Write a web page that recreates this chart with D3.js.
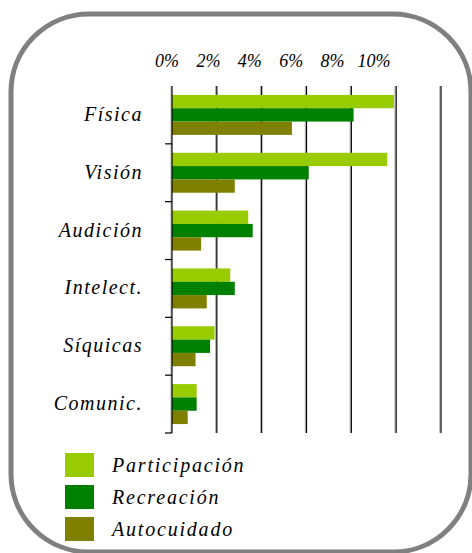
<!DOCTYPE html>
<html>
<head>
<meta charset="utf-8">
<script src="https://cdn.jsdelivr.net/npm/d3@7"></script>
<style>
  body { margin: 0; background: #fff; }
  svg { display: block; }
  text { font-family: "Liberation Serif", "DejaVu Serif", serif; font-style: italic; fill: #000; }
</style>
</head>
<body>
<script>
// data (percent)
var categories = ["Física", "Visión", "Audición", "Intelect.", "Síquicas", "Comunic."];
var series = ["Participación", "Recreación", "Autocuidado"];
var participacion = [9.9, 9.6, 3.4, 2.6, 1.9, 1.1];
var recreacion = [8.1, 6.1, 3.6, 2.8, 1.7, 1.1];
var autocuidado = [5.35, 2.8, 1.3, 1.55, 1.05, 0.7];
var tickLabels = ["0%", "2%", "4%", "6%", "8%", "10%"];
var gridValues = [0, 2, 4, 6, 8, 10, 12];
var colors = ["#99cc00", "#008000", "#808000"];

var values = [participacion, recreacion, autocuidado];

var width = 472, height = 553;

var svg = d3.select("body").append("svg")
    .attr("width", width)
    .attr("height", height);

// rounded frame
svg.append("rect")
    .attr("x", 11).attr("y", 14)
    .attr("width", 460).attr("height", 538)
    .attr("rx", 78).attr("ry", 78)
    .attr("fill", "none")
    .attr("stroke", "#808080")
    .attr("stroke-width", 5);

var x = d3.scaleLinear().domain([0, 12]).range([172, 441]);
var y = d3.scaleBand().domain(categories).range([86, 433]);
var y1 = d3.scaleBand().domain(series).range([0, y.bandwidth()]).paddingOuter(0.67);

// gridlines
var grid = svg.append("g");
grid.selectAll("line.shadow")
    .data(gridValues.slice(1))
    .enter().append("line")
    .attr("class", "shadow")
    .attr("x1", function (d) { return x(d) - 1.2; })
    .attr("x2", function (d) { return x(d) - 1.2; })
    .attr("y1", y.range()[0]).attr("y2", y.range()[1])
    .attr("stroke", "#aaa").attr("stroke-width", 1);
grid.selectAll("line.main")
    .data(gridValues.slice(1))
    .enter().append("line")
    .attr("class", "main")
    .attr("x1", function (d) { return x(d); })
    .attr("x2", function (d) { return x(d); })
    .attr("y1", y.range()[0]).attr("y2", y.range()[1])
    .attr("stroke", "#000").attr("stroke-width", 1.2);

// bars
var groups = svg.selectAll("g.cat")
    .data(categories)
    .enter().append("g")
    .attr("class", "cat")
    .attr("transform", function (d) { return "translate(0," + y(d) + ")"; });

groups.selectAll("rect")
    .data(function (d, i) {
        return series.map(function (s, j) { return {s: s, v: values[j][i], c: colors[j]}; });
    })
    .enter().append("rect")
    .attr("x", x(0))
    .attr("y", function (d) { return y1(d.s); })
    .attr("width", function (d) { return x(d.v) - x(0); })
    .attr("height", y1.bandwidth())
    .attr("fill", function (d) { return d.c; });

// left axis with ticks at band boundaries
var yAxis = svg.append("g");
yAxis.append("line")
    .attr("x1", x(0) - 1).attr("x2", x(0) - 1)
    .attr("y1", y.range()[0]).attr("y2", y.range()[1])
    .attr("stroke", "#aaa").attr("stroke-width", 1);
yAxis.append("line")
    .attr("x1", x(0)).attr("x2", x(0))
    .attr("y1", y.range()[0]).attr("y2", y.range()[1])
    .attr("stroke", "#000").attr("stroke-width", 1.2);
yAxis.selectAll("line.tick")
    .data(categories)
    .enter().append("line")
    .attr("class", "tick")
    .attr("x1", x(0) - 7).attr("x2", x(0))
    .attr("y1", function (d) { return y(d) + y.bandwidth(); })
    .attr("y2", function (d) { return y(d) + y.bandwidth(); })
    .attr("stroke", "#000").attr("stroke-width", 1.2);

yAxis.selectAll("text")
    .data(categories)
    .enter().append("text")
    .attr("x", 143)
    .attr("y", function (d) { return y(d) + y.bandwidth() / 2 + 6; })
    .attr("text-anchor", "end")
    .attr("font-size", 20)
    .attr("letter-spacing", 1.5)
    .text(function (d) { return d; });

// top tick labels (they sit a bit off the gridlines in the original)
var labelX = d3.scalePoint().domain(tickLabels).range([167, 374]);
svg.append("g").selectAll("text")
    .data(tickLabels)
    .enter().append("text")
    .attr("x", function (d) { return labelX(d); })
    .attr("y", 67)
    .attr("text-anchor", "middle")
    .attr("font-size", 18)
    .text(function (d) { return d; });

// legend
var legend = svg.append("g").selectAll("g")
    .data(series)
    .enter().append("g")
    .attr("transform", function (d, i) { return "translate(65," + (453 + i * 32) + ")"; });
legend.append("rect")
    .attr("width", 29).attr("height", 24)
    .attr("fill", function (d, i) { return colors[i]; });
legend.append("text")
    .attr("x", 47).attr("y", 19)
    .attr("font-size", 20)
    .attr("letter-spacing", 1.8)
    .text(function (d) { return d; });
</script>
</body>
</html>
